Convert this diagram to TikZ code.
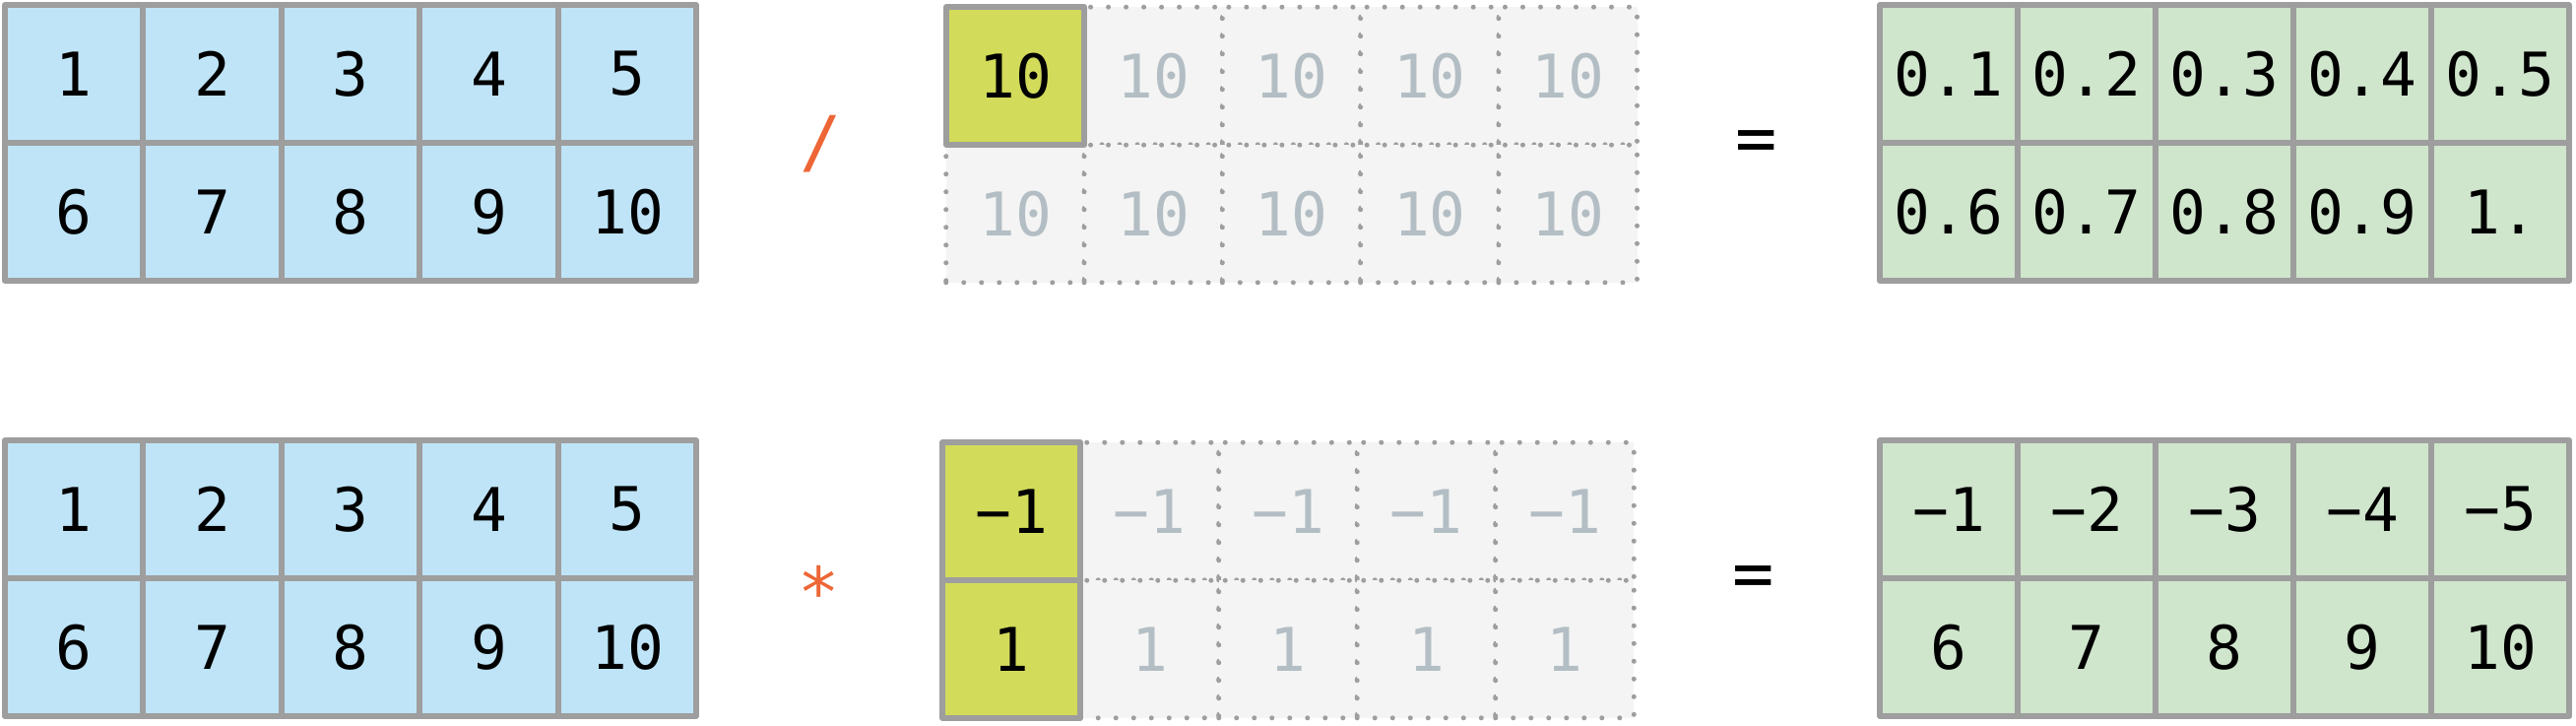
\documentclass[tikz,border=0pt]{standalone}
\usepackage{fontspec}
\newfontfamily\gridfont{DejaVu Sans Mono}
\definecolor{framegray}{HTML}{9E9E9E}
\definecolor{cellblue}{HTML}{BFE4F7}
\definecolor{cellgreen}{HTML}{CFE5CC}
\definecolor{cellyellow}{HTML}{D2DB5A}
\definecolor{ghostfill}{HTML}{F4F4F4}
\definecolor{ghosttext}{HTML}{B3BEC4}
\definecolor{opred}{HTML}{EE6636}
\begin{document}
\begin{tikzpicture}[x=0.01cm, y=-0.01cm, line join=round, line cap=round,
    cell/.style={draw=framegray, line width=0.057cm, minimum width=1.405cm, minimum height=1.395cm, inner sep=0pt, font=\gridfont\fontsize{17.4}{17.4}\selectfont},
    blue cell/.style={cell, fill=cellblue},
    green cell/.style={cell, fill=cellgreen},
    yellow cell/.style={cell, fill=cellyellow},
    ghost cell/.style={cell, fill=ghostfill, text=ghosttext, line width=0.05cm, dash pattern=on 0pt off 0.18cm},
    oper/.style={inner sep=0pt, font=\gridfont\fontsize{20}{20}\selectfont}]
  \useasboundingbox (0,0) rectangle (2616,736);

  % top: a / 10 = a/10
  \foreach \r in {0,1}
    \foreach \c in {0,...,4}{
      \pgfmathtruncatemacro\v{5*\r+\c+1}
      \node[blue cell] (num-\r-\c) at (75+140.5*\c, 75+140*\r) {\v};
    }
  \foreach \c in {1,...,4}
    \node[ghost cell] (den-0-\c) at (1031+140.3*\c, 77) {10};
  \foreach \c in {0,...,4}
    \node[ghost cell] (den-1-\c) at (1031+140.3*\c, 217) {10};
  \node[yellow cell] (den-0-0) at (1031,77) {10};
  \foreach \v [count=\k from 0] in {0.1,0.2,0.3,0.4,0.5,0.6,0.7,0.8,0.9,1.}{
    \pgfmathtruncatemacro\r{\k/5}
    \pgfmathtruncatemacro\c{\k-5*\r}
    \node[green cell] (quo-\r-\c) at (1979+140*\c, 75+140*\r) {\v};
  }
  \node[oper, text=opred] (div) at (834,146) {/};
  \node[oper] (eq-top) at (1784,149) {=};

  % bottom: a * [[-1],[1]] = product
  \foreach \r in {0,1}
    \foreach \c in {0,...,4}{
      \pgfmathtruncatemacro\v{5*\r+\c+1}
      \node[blue cell] (val-\r-\c) at (75+140.5*\c, 517+140*\r) {\v};
    }
  \foreach \c in {1,...,4}{
    \node[ghost cell] (sgn-0-\c) at (1027+140.5*\c, 519) {−1};
    \node[ghost cell] (sgn-1-\c) at (1027+140.5*\c, 659) {1};
  }
  \node[yellow cell] (sgn-0-0) at (1027,519) {−1};
  \node[yellow cell] (sgn-1-0) at (1027,659) {1};
  \foreach \c in {0,...,4}{
    \pgfmathtruncatemacro\v{\c+1}
    \pgfmathtruncatemacro\w{\c+6}
    \node[green cell] (prod-0-\c) at (1979+140*\c, 517) {−\v};
    \node[green cell] (prod-1-\c) at (1979+140*\c, 657) {\w};
  }
  \node[oper, text=opred] (mul) at (832,600) {*};
  \node[oper] (eq-bot) at (1781,591) {=};
\end{tikzpicture}
\end{document}
